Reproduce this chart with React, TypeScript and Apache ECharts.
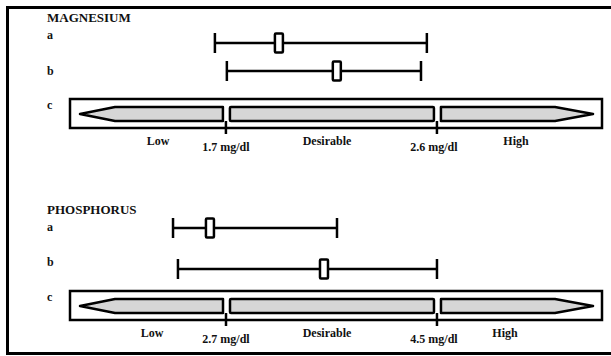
import React, { useEffect, useRef } from 'react';
import * as echarts from 'echarts';

// ---- data ----
const nutrients = ['MAGNESIUM', 'PHOSPHORUS'];
const rowLabels = ['a', 'b', 'c'];
const zoneLabels = ['Low', 'Desirable', 'High'];
const lowLimits = [1.7, 2.7];
const highLimits = [2.6, 4.5];
const limitLabels = [
  ['1.7 mg/dl', '2.6 mg/dl'],
  ['2.7 mg/dl', '4.5 mg/dl'],
];
const scaleMin = [1.035, 1.369];
const scaleMax = [3.304, 5.908];
// whisker rows: [low end, marker, high end]
const magnesiumA = [1.653, 1.926, 2.557];
const magnesiumB = [1.704, 2.173, 2.532];
const phosphorusA = [2.248, 2.563, 3.647];
const phosphorusB = [2.29, 3.536, 4.5];
const whiskers = [
  [magnesiumA, magnesiumB],
  [phosphorusA, phosphorusB],
];

// ---- layout (pixels) ----
const LAYOUT = [
  { titleY: 17, labelY: [35, 71, 105], rowY: [43, 71], barTop: 99, zoneX: [158, 327, 516], gridTop: 20 },
  { titleY: 209, labelY: [227, 262, 297], rowY: [228, 269], barTop: 291, zoneX: [152, 327, 505], gridTop: 205 },
];
const FONT = '"Liberation Serif", "Times New Roman", serif';
const INK = '#111';
const LW = 2.5;

function textEl(text: string, x: number, y: number, size: number, align: string) {
  return {
    type: 'text',
    x,
    y,
    style: {
      text,
      fontSize: size,
      fontWeight: 'bold',
      fontFamily: FONT,
      fill: INK,
      align,
      textAlign: align,
      verticalAlign: 'middle',
      textVerticalAlign: 'middle',
    },
  };
}

export default function App() {
  const ref = useRef<HTMLDivElement>(null);
  useEffect(() => {
    if (!ref.current) return;
    const chart = echarts.init(ref.current, null, { renderer: 'svg' });
    const line = { stroke: '#000', lineWidth: LW };

    const series: any[] = [];
    nutrients.forEach((_, i) => {
      const L = LAYOUT[i];
      series.push({
        type: 'custom',
        xAxisIndex: i,
        yAxisIndex: i,
        clip: false,
        encode: { x: [0, 1, 2], y: 3 },
        data: whiskers[i].map((w, r) => [w[0], w[1], w[2], r]),
        renderItem: (params: any, api: any) => {
          const lo = api.coord([api.value(0), 0])[0];
          const md = api.coord([api.value(1), 0])[0];
          const hi = api.coord([api.value(2), 0])[0];
          const y = L.rowY[api.value(3)];
          return {
            type: 'group',
            children: [
              { type: 'line', shape: { x1: lo, y1: y, x2: hi, y2: y }, style: line },
              { type: 'line', shape: { x1: lo, y1: y - 10, x2: lo, y2: y + 10 }, style: line },
              { type: 'line', shape: { x1: hi, y1: y - 10, x2: hi, y2: y + 10 }, style: line },
              {
                type: 'rect',
                shape: { x: md - 4, y: y - 9.5, width: 8, height: 19, r: 1 },
                style: { fill: '#fff', stroke: '#000', lineWidth: LW },
              },
            ],
          };
        },
      });
      series.push({
        type: 'custom',
        xAxisIndex: i,
        yAxisIndex: i,
        clip: false,
        encode: { x: [0, 1] },
        data: [[lowLimits[i], highLimits[i]]],
        renderItem: (params: any, api: any) => {
          const cs = params.coordSys;
          const ox = cs.x;
          const ow = cs.width;
          const lx = api.coord([api.value(0), 0])[0];
          const hx = api.coord([api.value(1), 0])[0];
          const t = L.barTop;
          const it = t + 8;
          const ib = t + 22;
          const ic = (it + ib) / 2;
          const fill = { fill: '#d6d6d6', stroke: '#000', lineWidth: LW, lineJoin: 'round' };
          return {
            type: 'group',
            children: [
              { type: 'rect', shape: { x: ox, y: t, width: ow, height: 29 }, style: { fill: '#fff', stroke: '#000', lineWidth: LW } },
              {
                type: 'polygon',
                shape: { points: [[ox + 10, ic], [ox + 45, it], [lx - 3, it], [lx - 3, ib], [ox + 45, ib]] },
                style: fill,
              },
              { type: 'rect', shape: { x: lx + 4, y: it, width: hx - 3 - (lx + 4), height: ib - it, r: 1 }, style: fill },
              {
                type: 'polygon',
                shape: { points: [[hx + 4, it], [ox + ow - 47, it], [ox + ow - 9, ic], [ox + ow - 47, ib], [hx + 4, ib]] },
                style: fill,
              },
              { type: 'line', shape: { x1: lx, y1: ib, x2: lx, y2: t + 35 }, style: line },
              { type: 'line', shape: { x1: hx, y1: ib, x2: hx, y2: t + 35 }, style: line },
              textEl(limitLabels[i][0], lx, t + 48, 12, 'center'),
              textEl(limitLabels[i][1], hx - 3, t + 48, 12, 'center'),
              textEl(zoneLabels[0], L.zoneX[0], t + 42, 12, 'center'),
              textEl(zoneLabels[1], L.zoneX[1], t + 42, 12, 'center'),
              textEl(zoneLabels[2], L.zoneX[2], t + 42, 12, 'center'),
            ],
          };
        },
      });
    });

    const graphic: any[] = [
      {
        type: 'rect',
        shape: { x: 7.5, y: 7.5, width: 620, height: 346 },
        style: { fill: 'none', stroke: '#000', lineWidth: 3 },
      },
    ];
    nutrients.forEach((name, i) => {
      const L = LAYOUT[i];
      graphic.push(textEl(name, 47, L.titleY, 13, 'left'));
      rowLabels.forEach((lab, r) => graphic.push(textEl(lab, 47, L.labelY[r], 12, 'left')));
    });

    chart.setOption({
      animation: false,
      backgroundColor: '#fff',
      grid: LAYOUT.map((L) => ({ left: 70, right: 9, top: L.gridTop, height: 140 })),
      xAxis: nutrients.map((_, i) => ({
        type: 'value',
        gridIndex: i,
        min: scaleMin[i],
        max: scaleMax[i],
        show: false,
      })),
      yAxis: nutrients.map((_, i) => ({ type: 'value', gridIndex: i, min: 0, max: 1, show: false })),
      graphic,
      series,
    });
    return () => chart.dispose();
  }, []);
  return (
    <div
      ref={ref}
      style={{ position: 'fixed', left: 0, top: 0, width: 611, height: 356, background: '#fff' }}
    />
  );
}
